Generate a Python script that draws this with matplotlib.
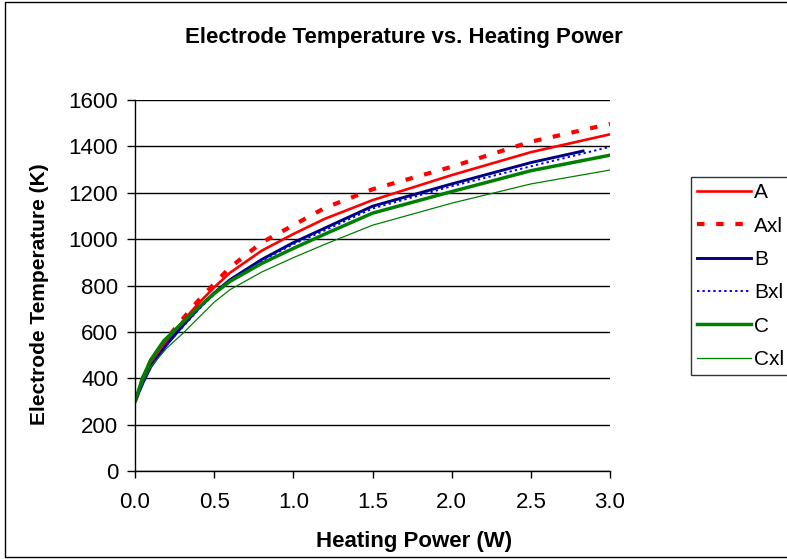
import matplotlib.pyplot as plt
from matplotlib.patches import Rectangle

# Heating power (W) and electrode temperature (K) for each electrode
a_power = [0, 0.05, 0.1, 0.2, 0.3, 0.4, 0.5, 0.6, 0.8, 1.0, 1.2, 1.5, 2.0, 2.5, 3.0]
a_temp = [300, 400, 470, 560, 645, 722, 792, 855, 950, 1022, 1088, 1168, 1276, 1375, 1452]

axl_power = [0, 0.05, 0.1, 0.2, 0.3, 0.4, 0.5, 0.6, 0.8, 1.0, 1.2, 1.5, 2.0, 2.5, 3.0]
axl_temp = [300, 400, 475, 570, 655, 735, 808, 878, 985, 1060, 1135, 1215, 1312, 1420, 1497]

b_power = [0, 0.05, 0.1, 0.2, 0.3, 0.4, 0.5, 0.6, 0.8, 1.0, 1.2, 1.5, 2.0, 2.5, 2.83]
b_temp = [300, 380, 450, 545, 625, 700, 768, 825, 912, 985, 1048, 1142, 1238, 1330, 1380]

bxl_power = [0, 0.05, 0.1, 0.2, 0.3, 0.4, 0.5, 0.6, 0.8, 1.0, 1.2, 1.5, 2.0, 2.5, 3.0]
bxl_temp = [300, 380, 450, 545, 620, 695, 762, 820, 906, 978, 1038, 1132, 1228, 1314, 1398]

c_power = [0, 0.05, 0.1, 0.18, 0.3, 0.4, 0.5, 0.6, 0.8, 1.0, 1.2, 1.5, 2.0, 2.5, 3.0]
c_temp = [300, 405, 480, 560, 640, 705, 765, 818, 895, 960, 1022, 1112, 1205, 1295, 1362]

cxl_power = [0, 0.05, 0.1, 0.2, 0.3, 0.4, 0.5, 0.6, 0.8, 1.0, 1.2, 1.5, 2.0, 2.5, 3.0]
cxl_temp = [300, 385, 450, 530, 592, 660, 728, 782, 858, 920, 978, 1060, 1155, 1238, 1298]

x_ticks = [0.0, 0.5, 1.0, 1.5, 2.0, 2.5, 3.0]
y_ticks = [0, 200, 400, 600, 800, 1000, 1200, 1400, 1600]

plt.rcParams['font.family'] = ['Liberation Sans', 'DejaVu Sans']

fig = plt.figure(figsize=(7.87, 5.59), dpi=100)
ax = fig.add_axes([135 / 787, 88 / 559, 475 / 787, 371 / 559])

ax.plot(a_power, a_temp, color='#FF0000', lw=1.9, label='A')
ax.plot(axl_power, axl_temp, color='#FF0000', lw=3.0, dashes=(1.8, 2.8), label='Axl')
ax.plot(b_power, b_temp, color='#000080', lw=2.1, label='B')
ax.plot(bxl_power, bxl_temp, color='#0000FF', lw=1.4, dashes=(1.2, 1.6), label='Bxl')
ax.plot(c_power, c_temp, color='#008000', lw=2.5, label='C')
ax.plot(cxl_power, cxl_temp, color='#008000', lw=0.9, label='Cxl')

ax.set_xlim(0, 3.0)
ax.set_ylim(0, 1600)
ax.set_xticks(x_ticks)
ax.set_xticklabels([f'{t:.1f}' for t in x_ticks])
ax.set_yticks(y_ticks)
ax.yaxis.grid(True, color='black', lw=1.0)
ax.set_axisbelow(True)
for side in ('top', 'right'):
    ax.spines[side].set_visible(False)
for side in ('left', 'bottom'):
    ax.spines[side].set_linewidth(1.0)
ax.tick_params(axis='x', direction='out', length=5, width=1.0, labelsize=16, pad=10)
ax.tick_params(axis='y', direction='out', length=6, width=1.0, labelsize=16, pad=6)

fig.text(404 / 787, 1 - 38 / 559, 'Electrode Temperature vs. Heating Power',
         ha='center', va='center', fontsize=16, fontweight='bold')
fig.text(414 / 787, 1 - 541 / 559, 'Heating Power (W)',
         ha='center', va='center', fontsize=16, fontweight='bold')
fig.text(40 / 787, 1 - 294 / 559, 'Electrode Temperature (K)',
         ha='center', va='center', rotation=90, fontsize=15, fontweight='bold')

leg = ax.legend(loc='upper left', bbox_to_anchor=(691 / 787, 1 - 177 / 559),
                bbox_transform=fig.transFigure, frameon=True, fancybox=False,
                fontsize=15, handlelength=2.6, handletextpad=0.12,
                labelspacing=0.69, borderpad=0.3, borderaxespad=0)
leg.get_frame().set_edgecolor('black')
leg.get_frame().set_linewidth(1.0)

# outer chart border
fig.patches.append(Rectangle((5 / 787, 2 / 559), 1.2, 555 / 559, transform=fig.transFigure,
                             fill=False, edgecolor='black', lw=1.0))

fig.savefig('out.png', dpi=100)
